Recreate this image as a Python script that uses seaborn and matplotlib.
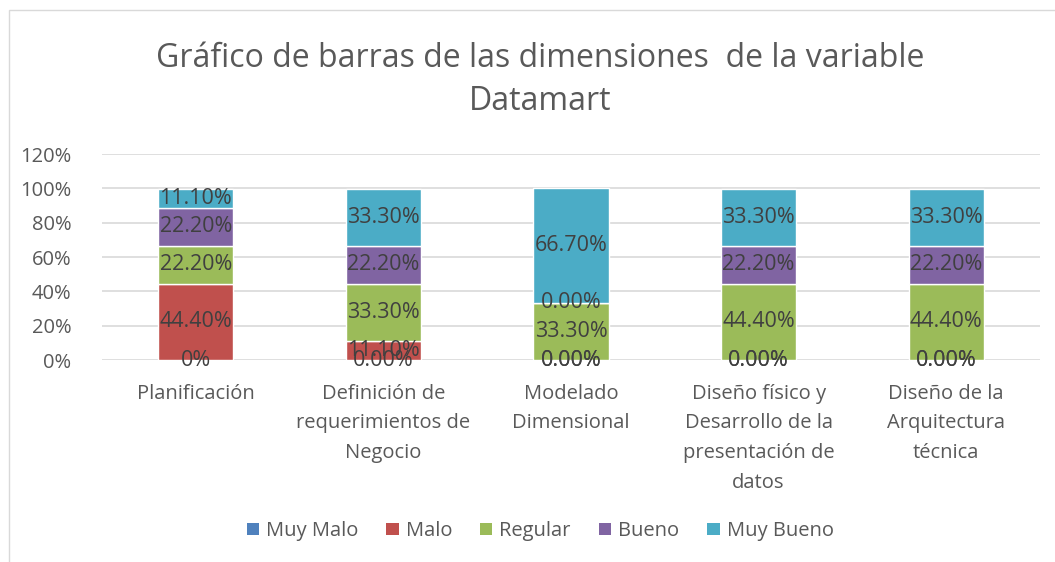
import pandas as pd
import numpy as np
import matplotlib.pyplot as plt
import seaborn as sns
from matplotlib.patches import Rectangle, Patch

sns.set_style("white")
plt.rcParams['font.family'] = ['Open Sans', 'DejaVu Sans']

# data
categorias = ["Planificación",
              "Definición de\nrequerimientos de\nNegocio",
              "Modelado\nDimensional",
              "Diseño físico y\nDesarrollo de la\npresentación de\ndatos",
              "Diseño de la\nArquitectura\ntécnica"]
series = ["Muy Malo", "Malo", "Regular", "Bueno", "Muy Bueno"]
muy_malo = [0.0, 0.0, 0.0, 0.0, 0.0]
malo = [44.4, 11.1, 0.0, 0.0, 0.0]
regular = [22.2, 33.3, 33.3, 44.4, 44.4]
bueno = [22.2, 22.2, 0.0, 22.2, 22.2]
muy_bueno = [11.1, 33.3, 66.7, 33.3, 33.3]
colores = ["#4F81BD", "#C0504D", "#9BBB59", "#8064A2", "#4BACC6"]

valores = [muy_malo, malo, regular, bueno, muy_bueno]
df = pd.DataFrame({"cat": categorias * len(series),
                   "serie": np.repeat(series, len(categorias)),
                   "valor": np.concatenate(valores)})

fs = 14.5
fig = plt.figure(figsize=(10.55, 5.62), dpi=100)
ax = fig.add_axes([0.0967, 0.3594, 0.8891, 0.3665])

bottom = np.zeros(len(categorias))
for s, col, vals in zip(series, colores, valores):
    sub = df[df["serie"] == s]
    sns.barplot(data=sub, x="cat", y="valor", color=col, width=0.4,
                bottom=bottom, ax=ax, errorbar=None, saturation=1, zorder=3)
    # etiquetas de datos
    for i, v in enumerate(vals):
        if s == "Muy Malo" and i == 0:
            txt = "0%"
        else:
            txt = f"{v:.2f}%"
        ax.text(i, bottom[i] + v / 2, txt, ha="center", va="center",
                fontsize=15.5, color="#404040", zorder=5)
    bottom = bottom + np.array(vals)

ax.set_ylim(0, 120)
ax.set_yticks(np.arange(0, 121, 20))
ax.set_yticklabels([f"{t}%" for t in range(0, 121, 20)], fontsize=fs, color="#595959")
ax.set_xticks(range(len(categorias)))
ax.set_xticklabels(categorias, fontsize=fs, color="#595959", linespacing=1.65, va="top")
ax.tick_params(axis="y", length=0, pad=22)
ax.tick_params(axis="x", length=0, pad=17)
ax.set_xlabel("")
ax.set_ylabel("")
ax.yaxis.grid(True, color="#D9D9D9", linewidth=1.2, zorder=0)
for sp in ax.spines.values():
    sp.set_visible(False)
ax.set_xlim(-0.5, 4.5)

fig.text(0.512, 0.857, "Gráfico de barras de las dimensiones  de la variable\nDatamart",
         ha="center", va="center", fontsize=23, color="#595959", linespacing=1.4)

handles = [Patch(facecolor=c, edgecolor="none") for c in colores]
fig.legend(handles, series, loc="center", bbox_to_anchor=(0.512, 0.055), ncol=5,
           frameon=False, fontsize=fs, handlelength=0.6, handleheight=0.6,
           handletextpad=0.35, columnspacing=1.4, labelcolor="#595959")

fig.patches.append(Rectangle((0.009, -0.01), 1.1, 0.993, transform=fig.transFigure,
                             fill=False, edgecolor="#D9D9D9", linewidth=1))

plt.savefig("out.png", dpi=100)
